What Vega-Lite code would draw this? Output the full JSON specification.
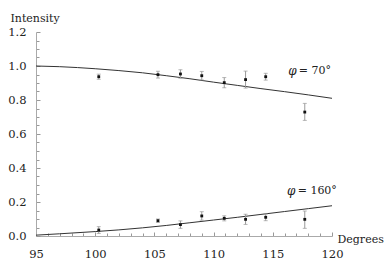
{
  "$schema": "https://vega.github.io/schema/vega-lite/v6.json",
  "width": 296,
  "height": 204,
  "autosize": "none",
  "padding": {"left": 36, "top": 32, "right": 56, "bottom": 38},
  "background": "white",
  "config": {
    "view": {"stroke": null},
    "font": "DejaVu Serif",
    "axis": {"grid": false, "domainColor": "#aaaaaa", "tickColor": "#999999", "labelFont": "DejaVu Serif", "titleFont": "DejaVu Serif", "labelFontSize": 11.5, "titleFontSize": 11, "labelColor": "#222", "titleColor": "#222", "titleFontWeight": "normal"}
  },
  "resolve": {"axis": {"x": "independent", "y": "independent"}},
  "datasets": {
    "curves": [
      {"deg": 95, "v": 1.0, "s": "70"}, {"deg": 97, "v": 0.996, "s": "70"}, {"deg": 100, "v": 0.984, "s": "70"},
      {"deg": 102, "v": 0.973, "s": "70"}, {"deg": 104, "v": 0.96, "s": "70"}, {"deg": 106, "v": 0.943, "s": "70"},
      {"deg": 108, "v": 0.925, "s": "70"}, {"deg": 110, "v": 0.905, "s": "70"}, {"deg": 112, "v": 0.886, "s": "70"},
      {"deg": 114, "v": 0.867, "s": "70"}, {"deg": 116, "v": 0.849, "s": "70"}, {"deg": 118, "v": 0.83, "s": "70"},
      {"deg": 120, "v": 0.81, "s": "70"},
      {"deg": 95, "v": 0.005, "s": "160"}, {"deg": 97, "v": 0.013, "s": "160"}, {"deg": 100, "v": 0.026, "s": "160"},
      {"deg": 102, "v": 0.036, "s": "160"}, {"deg": 104, "v": 0.048, "s": "160"}, {"deg": 106, "v": 0.062, "s": "160"},
      {"deg": 108, "v": 0.078, "s": "160"}, {"deg": 110, "v": 0.094, "s": "160"}, {"deg": 112, "v": 0.11, "s": "160"},
      {"deg": 114, "v": 0.127, "s": "160"}, {"deg": 116, "v": 0.144, "s": "160"}, {"deg": 118, "v": 0.161, "s": "160"},
      {"deg": 120, "v": 0.178, "s": "160"}
    ],
    "pts": [
      {"deg": 100.3, "v": 0.937, "lo": 0.922, "hi": 0.952, "s": "70"},
      {"deg": 105.3, "v": 0.949, "lo": 0.929, "hi": 0.969, "s": "70"},
      {"deg": 107.2, "v": 0.953, "lo": 0.928, "hi": 0.978, "s": "70"},
      {"deg": 109.0, "v": 0.943, "lo": 0.918, "hi": 0.968, "s": "70"},
      {"deg": 110.9, "v": 0.902, "lo": 0.872, "hi": 0.932, "s": "70"},
      {"deg": 112.7, "v": 0.92, "lo": 0.87, "hi": 0.97, "s": "70"},
      {"deg": 114.4, "v": 0.937, "lo": 0.917, "hi": 0.957, "s": "70"},
      {"deg": 117.7, "v": 0.729, "lo": 0.68, "hi": 0.78, "s": "70"},
      {"deg": 100.3, "v": 0.035, "lo": 0.015, "hi": 0.055, "s": "160"},
      {"deg": 105.3, "v": 0.09, "lo": 0.08, "hi": 0.1, "s": "160"},
      {"deg": 107.2, "v": 0.067, "lo": 0.045, "hi": 0.089, "s": "160"},
      {"deg": 109.0, "v": 0.118, "lo": 0.093, "hi": 0.143, "s": "160"},
      {"deg": 110.9, "v": 0.104, "lo": 0.089, "hi": 0.119, "s": "160"},
      {"deg": 112.7, "v": 0.098, "lo": 0.068, "hi": 0.128, "s": "160"},
      {"deg": 114.4, "v": 0.11, "lo": 0.09, "hi": 0.13, "s": "160"},
      {"deg": 117.7, "v": 0.098, "lo": 0.045, "hi": 0.147, "s": "160"}
    ],
    "phi": [
      {"deg": 116.3, "v": 0.97},
      {"deg": 116.2, "v": 0.265}
    ],
    "eq": [
      {"deg": 117.2, "v": 0.97, "t": "= 70°"},
      {"deg": 117.1, "v": 0.265, "t": "= 160°"}
    ]
  },
  "layer": [
    {
      "data": {"name": "curves"},
      "mark": {"type": "line", "color": "#333333", "strokeWidth": 1, "interpolate": "monotone"},
      "encoding": {
        "x": {"field": "deg", "type": "quantitative", "scale": {"domain": [95, 120], "nice": false},
          "axis": {"orient": "bottom", "values": [95,96,97,98,99,101,102,103,104,106,107,108,109,111,112,113,114,116,117,118,119],
            "labels": false, "domain": false, "tickSize": -3, "title": null}},
        "y": {"field": "v", "type": "quantitative", "scale": {"domain": [0, 1.2], "nice": false},
          "axis": {"orient": "left", "values": [0.05,0.1,0.15,0.25,0.3,0.35,0.45,0.5,0.55,0.65,0.7,0.75,0.85,0.9,0.95,1.05,1.1,1.15],
            "labels": false, "domain": false, "tickSize": -3, "title": null}},
        "detail": {"field": "s"}
      }
    },
    {
      "data": {"name": "pts"},
      "mark": {"type": "rule", "color": "#999999", "strokeWidth": 1},
      "encoding": {
        "x": {"field": "deg", "type": "quantitative",
          "axis": {"orient": "bottom", "values": [95, 100, 105, 110, 115, 120], "tickSize": -4, "labelPadding": 16, "labelFlush": false, "labelOverlap": false,
            "title": "Degrees", "titleAngle": 0, "titleAlign": "left", "titleBaseline": "middle", "titleX": 301, "titleY": 3}},
        "y": {"field": "lo", "type": "quantitative",
          "axis": {"orient": "left", "values": [0, 0.2, 0.4, 0.6, 0.8, 1.0, 1.2], "format": ".1f", "tickSize": -4, "labelPadding": 14, "labelFlush": false, "labelOverlap": false,
            "title": "Intensity", "titleAngle": 0, "titleAlign": "left", "titleBaseline": "middle", "titleX": -26, "titleY": -14}},
        "y2": {"field": "hi"}
      }
    },
    {
      "data": {"name": "pts"},
      "mark": {"type": "tick", "orient": "horizontal", "color": "#999999", "size": 4, "thickness": 1},
      "encoding": {
        "x": {"field": "deg", "type": "quantitative", "axis": null},
        "y": {"field": "lo", "type": "quantitative", "axis": null}
      }
    },
    {
      "data": {"name": "pts"},
      "mark": {"type": "tick", "orient": "horizontal", "color": "#999999", "size": 4, "thickness": 1},
      "encoding": {
        "x": {"field": "deg", "type": "quantitative", "axis": null},
        "y": {"field": "hi", "type": "quantitative", "axis": null}
      }
    },
    {
      "data": {"name": "pts"},
      "mark": {"type": "square", "color": "#111111", "filled": true, "size": 8, "opacity": 1},
      "encoding": {
        "x": {"field": "deg", "type": "quantitative", "axis": null},
        "y": {"field": "v", "type": "quantitative", "axis": null}
      }
    },
    {
      "data": {"name": "phi"},
      "mark": {"type": "text", "text": "φ", "font": "DejaVu Serif", "fontStyle": "italic", "fontSize": 12, "align": "left", "baseline": "middle", "color": "#222"},
      "encoding": {
        "x": {"field": "deg", "type": "quantitative", "axis": null},
        "y": {"field": "v", "type": "quantitative", "axis": null}
      }
    },
    {
      "data": {"name": "eq"},
      "mark": {"type": "text", "font": "DejaVu Serif", "fontSize": 11, "align": "left", "baseline": "middle", "color": "#222"},
      "encoding": {
        "x": {"field": "deg", "type": "quantitative", "axis": null},
        "y": {"field": "v", "type": "quantitative", "axis": null},
        "text": {"field": "t"}
      }
    }
  ]
}
